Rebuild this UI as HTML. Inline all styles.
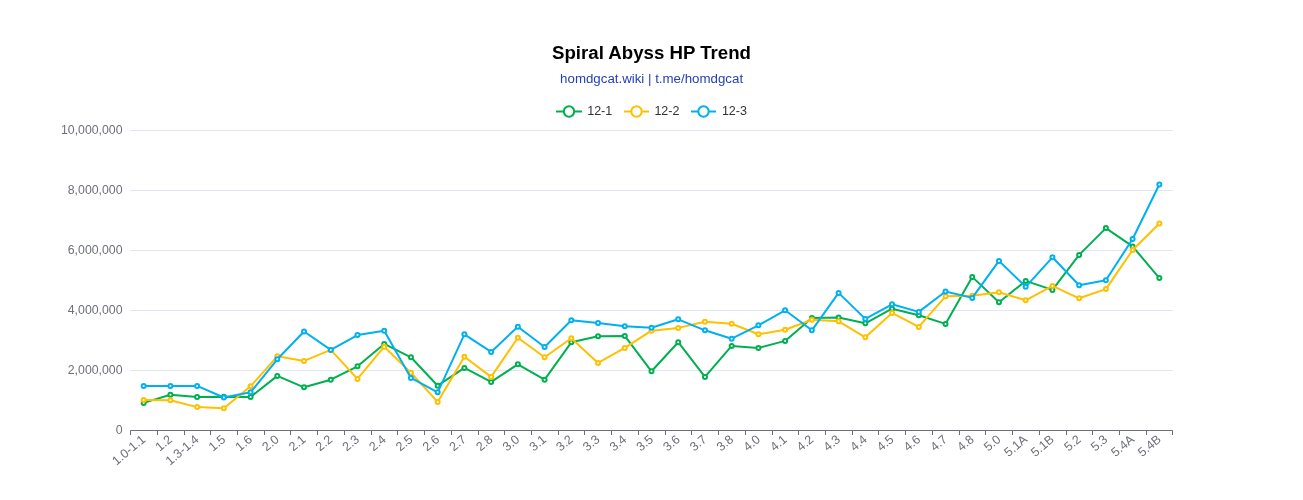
<!DOCTYPE html>
<html><head><meta charset="utf-8"><style>
html,body{margin:0;padding:0;background:#fff;}
body{width:1303px;height:500px;overflow:hidden;position:relative;font-family:"Liberation Sans",sans-serif;}
svg{position:absolute;left:0;top:0;will-change:transform;}
.yl{font-size:12.3px;fill:#6e7079;text-anchor:end;dominant-baseline:central;}
.xl{font-size:12.5px;fill:#6e7079;text-anchor:end;dominant-baseline:central;}
.title{font-size:19.2px;font-weight:bold;fill:#000;text-anchor:middle;}
.sub{font-size:13.7px;fill:#2540b8;text-anchor:middle;}
.lg{font-size:12.5px;fill:#333;dominant-baseline:central;}
</style></head><body>
<svg width="1303" height="500" viewBox="0 0 1303 500">
<rect x="0" y="0" width="1303" height="500" fill="#fff"/>
<text x="651.5" y="58.7" class="title" textLength="199" lengthAdjust="spacingAndGlyphs">Spiral Abyss HP Trend</text>
<text x="651.6" y="82.7" class="sub" textLength="183" lengthAdjust="spacingAndGlyphs">homdgcat.wiki | t.me/homdgcat</text>
<g>
<line x1="556" y1="111.5" x2="582" y2="111.5" stroke="#00b050" stroke-width="2"/><circle cx="569" cy="111.5" r="5.2" fill="#fff" stroke="#00b050" stroke-width="2"/>
<text x="587.2" y="110.6" class="lg">12-1</text>
<line x1="624" y1="111.5" x2="649" y2="111.5" stroke="#ffc000" stroke-width="2"/><circle cx="636.5" cy="111.5" r="5.2" fill="#fff" stroke="#ffc000" stroke-width="2"/>
<text x="654.4" y="110.6" class="lg">12-2</text>
<line x1="691" y1="111.5" x2="716" y2="111.5" stroke="#00b0f0" stroke-width="2"/><circle cx="703.5" cy="111.5" r="5.2" fill="#fff" stroke="#00b0f0" stroke-width="2"/>
<text x="721.9" y="110.6" class="lg">12-3</text>
</g>
<line x1="130.3" y1="130.5" x2="1172.7" y2="130.5" stroke="#e0e6f1" stroke-width="1"/>
<line x1="130.3" y1="190.5" x2="1172.7" y2="190.5" stroke="#e0e6f1" stroke-width="1"/>
<line x1="130.3" y1="250.5" x2="1172.7" y2="250.5" stroke="#e0e6f1" stroke-width="1"/>
<line x1="130.3" y1="310.5" x2="1172.7" y2="310.5" stroke="#e0e6f1" stroke-width="1"/>
<line x1="130.3" y1="370.5" x2="1172.7" y2="370.5" stroke="#e0e6f1" stroke-width="1"/>
<text x="122.5" y="430" class="yl">0</text>
<text x="122.5" y="370" class="yl">2,000,000</text>
<text x="122.5" y="310" class="yl">4,000,000</text>
<text x="122.5" y="250" class="yl">6,000,000</text>
<text x="122.5" y="190" class="yl">8,000,000</text>
<text x="122.5" y="130" class="yl">10,000,000</text>
<line x1="130.3" y1="430.5" x2="1172.7" y2="430.5" stroke="#6e7079" stroke-width="1"/>
<line x1="130.5" y1="430.5" x2="130.5" y2="435" stroke="#6e7079" stroke-width="1"/>
<line x1="157.5" y1="430.5" x2="157.5" y2="435" stroke="#6e7079" stroke-width="1"/>
<line x1="184.5" y1="430.5" x2="184.5" y2="435" stroke="#6e7079" stroke-width="1"/>
<line x1="210.5" y1="430.5" x2="210.5" y2="435" stroke="#6e7079" stroke-width="1"/>
<line x1="237.5" y1="430.5" x2="237.5" y2="435" stroke="#6e7079" stroke-width="1"/>
<line x1="264.5" y1="430.5" x2="264.5" y2="435" stroke="#6e7079" stroke-width="1"/>
<line x1="290.5" y1="430.5" x2="290.5" y2="435" stroke="#6e7079" stroke-width="1"/>
<line x1="317.5" y1="430.5" x2="317.5" y2="435" stroke="#6e7079" stroke-width="1"/>
<line x1="344.5" y1="430.5" x2="344.5" y2="435" stroke="#6e7079" stroke-width="1"/>
<line x1="371.5" y1="430.5" x2="371.5" y2="435" stroke="#6e7079" stroke-width="1"/>
<line x1="397.5" y1="430.5" x2="397.5" y2="435" stroke="#6e7079" stroke-width="1"/>
<line x1="424.5" y1="430.5" x2="424.5" y2="435" stroke="#6e7079" stroke-width="1"/>
<line x1="451.5" y1="430.5" x2="451.5" y2="435" stroke="#6e7079" stroke-width="1"/>
<line x1="478.5" y1="430.5" x2="478.5" y2="435" stroke="#6e7079" stroke-width="1"/>
<line x1="504.5" y1="430.5" x2="504.5" y2="435" stroke="#6e7079" stroke-width="1"/>
<line x1="531.5" y1="430.5" x2="531.5" y2="435" stroke="#6e7079" stroke-width="1"/>
<line x1="558.5" y1="430.5" x2="558.5" y2="435" stroke="#6e7079" stroke-width="1"/>
<line x1="584.5" y1="430.5" x2="584.5" y2="435" stroke="#6e7079" stroke-width="1"/>
<line x1="611.5" y1="430.5" x2="611.5" y2="435" stroke="#6e7079" stroke-width="1"/>
<line x1="638.5" y1="430.5" x2="638.5" y2="435" stroke="#6e7079" stroke-width="1"/>
<line x1="665.5" y1="430.5" x2="665.5" y2="435" stroke="#6e7079" stroke-width="1"/>
<line x1="691.5" y1="430.5" x2="691.5" y2="435" stroke="#6e7079" stroke-width="1"/>
<line x1="718.5" y1="430.5" x2="718.5" y2="435" stroke="#6e7079" stroke-width="1"/>
<line x1="745.5" y1="430.5" x2="745.5" y2="435" stroke="#6e7079" stroke-width="1"/>
<line x1="772.5" y1="430.5" x2="772.5" y2="435" stroke="#6e7079" stroke-width="1"/>
<line x1="798.5" y1="430.5" x2="798.5" y2="435" stroke="#6e7079" stroke-width="1"/>
<line x1="825.5" y1="430.5" x2="825.5" y2="435" stroke="#6e7079" stroke-width="1"/>
<line x1="852.5" y1="430.5" x2="852.5" y2="435" stroke="#6e7079" stroke-width="1"/>
<line x1="878.5" y1="430.5" x2="878.5" y2="435" stroke="#6e7079" stroke-width="1"/>
<line x1="905.5" y1="430.5" x2="905.5" y2="435" stroke="#6e7079" stroke-width="1"/>
<line x1="932.5" y1="430.5" x2="932.5" y2="435" stroke="#6e7079" stroke-width="1"/>
<line x1="959.5" y1="430.5" x2="959.5" y2="435" stroke="#6e7079" stroke-width="1"/>
<line x1="985.5" y1="430.5" x2="985.5" y2="435" stroke="#6e7079" stroke-width="1"/>
<line x1="1012.5" y1="430.5" x2="1012.5" y2="435" stroke="#6e7079" stroke-width="1"/>
<line x1="1039.5" y1="430.5" x2="1039.5" y2="435" stroke="#6e7079" stroke-width="1"/>
<line x1="1066.5" y1="430.5" x2="1066.5" y2="435" stroke="#6e7079" stroke-width="1"/>
<line x1="1092.5" y1="430.5" x2="1092.5" y2="435" stroke="#6e7079" stroke-width="1"/>
<line x1="1119.5" y1="430.5" x2="1119.5" y2="435" stroke="#6e7079" stroke-width="1"/>
<line x1="1146.5" y1="430.5" x2="1146.5" y2="435" stroke="#6e7079" stroke-width="1"/>
<line x1="1172.5" y1="430.5" x2="1172.5" y2="435" stroke="#6e7079" stroke-width="1"/>
<text transform="translate(143.66,437.6) rotate(-40)" class="xl">1.0-1.1</text>
<text transform="translate(170.39,437.6) rotate(-40)" class="xl">1.2</text>
<text transform="translate(197.12,437.6) rotate(-40)" class="xl">1.3-1.4</text>
<text transform="translate(223.85,437.6) rotate(-40)" class="xl">1.5</text>
<text transform="translate(250.58,437.6) rotate(-40)" class="xl">1.6</text>
<text transform="translate(277.31,437.6) rotate(-40)" class="xl">2.0</text>
<text transform="translate(304.03,437.6) rotate(-40)" class="xl">2.1</text>
<text transform="translate(330.76,437.6) rotate(-40)" class="xl">2.2</text>
<text transform="translate(357.49,437.6) rotate(-40)" class="xl">2.3</text>
<text transform="translate(384.22,437.6) rotate(-40)" class="xl">2.4</text>
<text transform="translate(410.95,437.6) rotate(-40)" class="xl">2.5</text>
<text transform="translate(437.67,437.6) rotate(-40)" class="xl">2.6</text>
<text transform="translate(464.40,437.6) rotate(-40)" class="xl">2.7</text>
<text transform="translate(491.13,437.6) rotate(-40)" class="xl">2.8</text>
<text transform="translate(517.86,437.6) rotate(-40)" class="xl">3.0</text>
<text transform="translate(544.59,437.6) rotate(-40)" class="xl">3.1</text>
<text transform="translate(571.32,437.6) rotate(-40)" class="xl">3.2</text>
<text transform="translate(598.04,437.6) rotate(-40)" class="xl">3.3</text>
<text transform="translate(624.77,437.6) rotate(-40)" class="xl">3.4</text>
<text transform="translate(651.50,437.6) rotate(-40)" class="xl">3.5</text>
<text transform="translate(678.23,437.6) rotate(-40)" class="xl">3.6</text>
<text transform="translate(704.96,437.6) rotate(-40)" class="xl">3.7</text>
<text transform="translate(731.68,437.6) rotate(-40)" class="xl">3.8</text>
<text transform="translate(758.41,437.6) rotate(-40)" class="xl">4.0</text>
<text transform="translate(785.14,437.6) rotate(-40)" class="xl">4.1</text>
<text transform="translate(811.87,437.6) rotate(-40)" class="xl">4.2</text>
<text transform="translate(838.60,437.6) rotate(-40)" class="xl">4.3</text>
<text transform="translate(865.33,437.6) rotate(-40)" class="xl">4.4</text>
<text transform="translate(892.05,437.6) rotate(-40)" class="xl">4.5</text>
<text transform="translate(918.78,437.6) rotate(-40)" class="xl">4.6</text>
<text transform="translate(945.51,437.6) rotate(-40)" class="xl">4.7</text>
<text transform="translate(972.24,437.6) rotate(-40)" class="xl">4.8</text>
<text transform="translate(998.97,437.6) rotate(-40)" class="xl">5.0</text>
<text transform="translate(1025.69,437.6) rotate(-40)" class="xl">5.1A</text>
<text transform="translate(1052.42,437.6) rotate(-40)" class="xl">5.1B</text>
<text transform="translate(1079.15,437.6) rotate(-40)" class="xl">5.2</text>
<text transform="translate(1105.88,437.6) rotate(-40)" class="xl">5.3</text>
<text transform="translate(1132.61,437.6) rotate(-40)" class="xl">5.4A</text>
<text transform="translate(1159.34,437.6) rotate(-40)" class="xl">5.4B</text>
<polyline points="143.66,402.90 170.39,394.70 197.12,396.90 223.85,396.70 250.58,396.90 277.31,375.90 304.03,387.30 330.76,379.70 357.49,366.30 384.22,343.90 410.95,357.30 437.67,385.70 464.40,367.90 491.13,381.90 517.86,364.30 544.59,379.70 571.32,342.30 598.04,336.30 624.77,335.90 651.50,371.30 678.23,342.20 704.96,376.90 731.68,345.90 758.41,347.90 785.14,340.90 811.87,318.10 838.60,317.50 865.33,323.30 892.05,308.70 918.78,315.30 945.51,323.90 972.24,276.90 998.97,302.30 1025.69,280.90 1052.42,289.90 1079.15,254.90 1105.88,228.10 1132.61,246.40 1159.34,278.10" fill="none" stroke="#00b050" stroke-width="2" stroke-linejoin="bevel"/>
<circle cx="143.66" cy="402.90" r="2" fill="#fff" stroke="#00b050" stroke-width="2"/>
<circle cx="170.39" cy="394.70" r="2" fill="#fff" stroke="#00b050" stroke-width="2"/>
<circle cx="197.12" cy="396.90" r="2" fill="#fff" stroke="#00b050" stroke-width="2"/>
<circle cx="223.85" cy="396.70" r="2" fill="#fff" stroke="#00b050" stroke-width="2"/>
<circle cx="250.58" cy="396.90" r="2" fill="#fff" stroke="#00b050" stroke-width="2"/>
<circle cx="277.31" cy="375.90" r="2" fill="#fff" stroke="#00b050" stroke-width="2"/>
<circle cx="304.03" cy="387.30" r="2" fill="#fff" stroke="#00b050" stroke-width="2"/>
<circle cx="330.76" cy="379.70" r="2" fill="#fff" stroke="#00b050" stroke-width="2"/>
<circle cx="357.49" cy="366.30" r="2" fill="#fff" stroke="#00b050" stroke-width="2"/>
<circle cx="384.22" cy="343.90" r="2" fill="#fff" stroke="#00b050" stroke-width="2"/>
<circle cx="410.95" cy="357.30" r="2" fill="#fff" stroke="#00b050" stroke-width="2"/>
<circle cx="437.67" cy="385.70" r="2" fill="#fff" stroke="#00b050" stroke-width="2"/>
<circle cx="464.40" cy="367.90" r="2" fill="#fff" stroke="#00b050" stroke-width="2"/>
<circle cx="491.13" cy="381.90" r="2" fill="#fff" stroke="#00b050" stroke-width="2"/>
<circle cx="517.86" cy="364.30" r="2" fill="#fff" stroke="#00b050" stroke-width="2"/>
<circle cx="544.59" cy="379.70" r="2" fill="#fff" stroke="#00b050" stroke-width="2"/>
<circle cx="571.32" cy="342.30" r="2" fill="#fff" stroke="#00b050" stroke-width="2"/>
<circle cx="598.04" cy="336.30" r="2" fill="#fff" stroke="#00b050" stroke-width="2"/>
<circle cx="624.77" cy="335.90" r="2" fill="#fff" stroke="#00b050" stroke-width="2"/>
<circle cx="651.50" cy="371.30" r="2" fill="#fff" stroke="#00b050" stroke-width="2"/>
<circle cx="678.23" cy="342.20" r="2" fill="#fff" stroke="#00b050" stroke-width="2"/>
<circle cx="704.96" cy="376.90" r="2" fill="#fff" stroke="#00b050" stroke-width="2"/>
<circle cx="731.68" cy="345.90" r="2" fill="#fff" stroke="#00b050" stroke-width="2"/>
<circle cx="758.41" cy="347.90" r="2" fill="#fff" stroke="#00b050" stroke-width="2"/>
<circle cx="785.14" cy="340.90" r="2" fill="#fff" stroke="#00b050" stroke-width="2"/>
<circle cx="811.87" cy="318.10" r="2" fill="#fff" stroke="#00b050" stroke-width="2"/>
<circle cx="838.60" cy="317.50" r="2" fill="#fff" stroke="#00b050" stroke-width="2"/>
<circle cx="865.33" cy="323.30" r="2" fill="#fff" stroke="#00b050" stroke-width="2"/>
<circle cx="892.05" cy="308.70" r="2" fill="#fff" stroke="#00b050" stroke-width="2"/>
<circle cx="918.78" cy="315.30" r="2" fill="#fff" stroke="#00b050" stroke-width="2"/>
<circle cx="945.51" cy="323.90" r="2" fill="#fff" stroke="#00b050" stroke-width="2"/>
<circle cx="972.24" cy="276.90" r="2" fill="#fff" stroke="#00b050" stroke-width="2"/>
<circle cx="998.97" cy="302.30" r="2" fill="#fff" stroke="#00b050" stroke-width="2"/>
<circle cx="1025.69" cy="280.90" r="2" fill="#fff" stroke="#00b050" stroke-width="2"/>
<circle cx="1052.42" cy="289.90" r="2" fill="#fff" stroke="#00b050" stroke-width="2"/>
<circle cx="1079.15" cy="254.90" r="2" fill="#fff" stroke="#00b050" stroke-width="2"/>
<circle cx="1105.88" cy="228.10" r="2" fill="#fff" stroke="#00b050" stroke-width="2"/>
<circle cx="1132.61" cy="246.40" r="2" fill="#fff" stroke="#00b050" stroke-width="2"/>
<circle cx="1159.34" cy="278.10" r="2" fill="#fff" stroke="#00b050" stroke-width="2"/>
<polyline points="143.66,400.00 170.39,400.30 197.12,407.10 223.85,408.30 250.58,386.30 277.31,356.30 304.03,360.90 330.76,349.90 357.49,378.90 384.22,346.70 410.95,372.70 437.67,401.90 464.40,356.70 491.13,376.90 517.86,337.70 544.59,357.30 571.32,338.30 598.04,362.90 624.77,347.90 651.50,330.70 678.23,327.90 704.96,321.70 731.68,323.70 758.41,334.30 785.14,329.70 811.87,319.70 838.60,321.30 865.33,337.30 892.05,312.90 918.78,326.90 945.51,296.30 972.24,295.70 998.97,292.30 1025.69,300.30 1052.42,285.90 1079.15,298.30 1105.88,289.10 1132.61,250.00 1159.34,223.50" fill="none" stroke="#ffc000" stroke-width="2" stroke-linejoin="bevel"/>
<circle cx="143.66" cy="400.00" r="2" fill="#fff" stroke="#ffc000" stroke-width="2"/>
<circle cx="170.39" cy="400.30" r="2" fill="#fff" stroke="#ffc000" stroke-width="2"/>
<circle cx="197.12" cy="407.10" r="2" fill="#fff" stroke="#ffc000" stroke-width="2"/>
<circle cx="223.85" cy="408.30" r="2" fill="#fff" stroke="#ffc000" stroke-width="2"/>
<circle cx="250.58" cy="386.30" r="2" fill="#fff" stroke="#ffc000" stroke-width="2"/>
<circle cx="277.31" cy="356.30" r="2" fill="#fff" stroke="#ffc000" stroke-width="2"/>
<circle cx="304.03" cy="360.90" r="2" fill="#fff" stroke="#ffc000" stroke-width="2"/>
<circle cx="330.76" cy="349.90" r="2" fill="#fff" stroke="#ffc000" stroke-width="2"/>
<circle cx="357.49" cy="378.90" r="2" fill="#fff" stroke="#ffc000" stroke-width="2"/>
<circle cx="384.22" cy="346.70" r="2" fill="#fff" stroke="#ffc000" stroke-width="2"/>
<circle cx="410.95" cy="372.70" r="2" fill="#fff" stroke="#ffc000" stroke-width="2"/>
<circle cx="437.67" cy="401.90" r="2" fill="#fff" stroke="#ffc000" stroke-width="2"/>
<circle cx="464.40" cy="356.70" r="2" fill="#fff" stroke="#ffc000" stroke-width="2"/>
<circle cx="491.13" cy="376.90" r="2" fill="#fff" stroke="#ffc000" stroke-width="2"/>
<circle cx="517.86" cy="337.70" r="2" fill="#fff" stroke="#ffc000" stroke-width="2"/>
<circle cx="544.59" cy="357.30" r="2" fill="#fff" stroke="#ffc000" stroke-width="2"/>
<circle cx="571.32" cy="338.30" r="2" fill="#fff" stroke="#ffc000" stroke-width="2"/>
<circle cx="598.04" cy="362.90" r="2" fill="#fff" stroke="#ffc000" stroke-width="2"/>
<circle cx="624.77" cy="347.90" r="2" fill="#fff" stroke="#ffc000" stroke-width="2"/>
<circle cx="651.50" cy="330.70" r="2" fill="#fff" stroke="#ffc000" stroke-width="2"/>
<circle cx="678.23" cy="327.90" r="2" fill="#fff" stroke="#ffc000" stroke-width="2"/>
<circle cx="704.96" cy="321.70" r="2" fill="#fff" stroke="#ffc000" stroke-width="2"/>
<circle cx="731.68" cy="323.70" r="2" fill="#fff" stroke="#ffc000" stroke-width="2"/>
<circle cx="758.41" cy="334.30" r="2" fill="#fff" stroke="#ffc000" stroke-width="2"/>
<circle cx="785.14" cy="329.70" r="2" fill="#fff" stroke="#ffc000" stroke-width="2"/>
<circle cx="811.87" cy="319.70" r="2" fill="#fff" stroke="#ffc000" stroke-width="2"/>
<circle cx="838.60" cy="321.30" r="2" fill="#fff" stroke="#ffc000" stroke-width="2"/>
<circle cx="865.33" cy="337.30" r="2" fill="#fff" stroke="#ffc000" stroke-width="2"/>
<circle cx="892.05" cy="312.90" r="2" fill="#fff" stroke="#ffc000" stroke-width="2"/>
<circle cx="918.78" cy="326.90" r="2" fill="#fff" stroke="#ffc000" stroke-width="2"/>
<circle cx="945.51" cy="296.30" r="2" fill="#fff" stroke="#ffc000" stroke-width="2"/>
<circle cx="972.24" cy="295.70" r="2" fill="#fff" stroke="#ffc000" stroke-width="2"/>
<circle cx="998.97" cy="292.30" r="2" fill="#fff" stroke="#ffc000" stroke-width="2"/>
<circle cx="1025.69" cy="300.30" r="2" fill="#fff" stroke="#ffc000" stroke-width="2"/>
<circle cx="1052.42" cy="285.90" r="2" fill="#fff" stroke="#ffc000" stroke-width="2"/>
<circle cx="1079.15" cy="298.30" r="2" fill="#fff" stroke="#ffc000" stroke-width="2"/>
<circle cx="1105.88" cy="289.10" r="2" fill="#fff" stroke="#ffc000" stroke-width="2"/>
<circle cx="1132.61" cy="250.00" r="2" fill="#fff" stroke="#ffc000" stroke-width="2"/>
<circle cx="1159.34" cy="223.50" r="2" fill="#fff" stroke="#ffc000" stroke-width="2"/>
<polyline points="143.66,386.00 170.39,385.90 197.12,385.90 223.85,397.50 250.58,392.30 277.31,359.30 304.03,331.50 330.76,349.90 357.49,335.10 384.22,330.70 410.95,377.90 437.67,392.30 464.40,334.30 491.13,351.90 517.86,326.70 544.59,347.00 571.32,320.30 598.04,322.90 624.77,326.30 651.50,327.70 678.23,319.30 704.96,330.30 731.68,338.70 758.41,325.30 785.14,310.30 811.87,330.30 838.60,292.90 865.33,318.90 892.05,304.30 918.78,311.90 945.51,291.50 972.24,297.90 998.97,260.90 1025.69,286.80 1052.42,257.30 1079.15,285.20 1105.88,280.20 1132.61,239.00 1159.34,184.50" fill="none" stroke="#00b0f0" stroke-width="2" stroke-linejoin="bevel"/>
<circle cx="143.66" cy="386.00" r="2" fill="#fff" stroke="#00b0f0" stroke-width="2"/>
<circle cx="170.39" cy="385.90" r="2" fill="#fff" stroke="#00b0f0" stroke-width="2"/>
<circle cx="197.12" cy="385.90" r="2" fill="#fff" stroke="#00b0f0" stroke-width="2"/>
<circle cx="223.85" cy="397.50" r="2" fill="#fff" stroke="#00b0f0" stroke-width="2"/>
<circle cx="250.58" cy="392.30" r="2" fill="#fff" stroke="#00b0f0" stroke-width="2"/>
<circle cx="277.31" cy="359.30" r="2" fill="#fff" stroke="#00b0f0" stroke-width="2"/>
<circle cx="304.03" cy="331.50" r="2" fill="#fff" stroke="#00b0f0" stroke-width="2"/>
<circle cx="330.76" cy="349.90" r="2" fill="#fff" stroke="#00b0f0" stroke-width="2"/>
<circle cx="357.49" cy="335.10" r="2" fill="#fff" stroke="#00b0f0" stroke-width="2"/>
<circle cx="384.22" cy="330.70" r="2" fill="#fff" stroke="#00b0f0" stroke-width="2"/>
<circle cx="410.95" cy="377.90" r="2" fill="#fff" stroke="#00b0f0" stroke-width="2"/>
<circle cx="437.67" cy="392.30" r="2" fill="#fff" stroke="#00b0f0" stroke-width="2"/>
<circle cx="464.40" cy="334.30" r="2" fill="#fff" stroke="#00b0f0" stroke-width="2"/>
<circle cx="491.13" cy="351.90" r="2" fill="#fff" stroke="#00b0f0" stroke-width="2"/>
<circle cx="517.86" cy="326.70" r="2" fill="#fff" stroke="#00b0f0" stroke-width="2"/>
<circle cx="544.59" cy="347.00" r="2" fill="#fff" stroke="#00b0f0" stroke-width="2"/>
<circle cx="571.32" cy="320.30" r="2" fill="#fff" stroke="#00b0f0" stroke-width="2"/>
<circle cx="598.04" cy="322.90" r="2" fill="#fff" stroke="#00b0f0" stroke-width="2"/>
<circle cx="624.77" cy="326.30" r="2" fill="#fff" stroke="#00b0f0" stroke-width="2"/>
<circle cx="651.50" cy="327.70" r="2" fill="#fff" stroke="#00b0f0" stroke-width="2"/>
<circle cx="678.23" cy="319.30" r="2" fill="#fff" stroke="#00b0f0" stroke-width="2"/>
<circle cx="704.96" cy="330.30" r="2" fill="#fff" stroke="#00b0f0" stroke-width="2"/>
<circle cx="731.68" cy="338.70" r="2" fill="#fff" stroke="#00b0f0" stroke-width="2"/>
<circle cx="758.41" cy="325.30" r="2" fill="#fff" stroke="#00b0f0" stroke-width="2"/>
<circle cx="785.14" cy="310.30" r="2" fill="#fff" stroke="#00b0f0" stroke-width="2"/>
<circle cx="811.87" cy="330.30" r="2" fill="#fff" stroke="#00b0f0" stroke-width="2"/>
<circle cx="838.60" cy="292.90" r="2" fill="#fff" stroke="#00b0f0" stroke-width="2"/>
<circle cx="865.33" cy="318.90" r="2" fill="#fff" stroke="#00b0f0" stroke-width="2"/>
<circle cx="892.05" cy="304.30" r="2" fill="#fff" stroke="#00b0f0" stroke-width="2"/>
<circle cx="918.78" cy="311.90" r="2" fill="#fff" stroke="#00b0f0" stroke-width="2"/>
<circle cx="945.51" cy="291.50" r="2" fill="#fff" stroke="#00b0f0" stroke-width="2"/>
<circle cx="972.24" cy="297.90" r="2" fill="#fff" stroke="#00b0f0" stroke-width="2"/>
<circle cx="998.97" cy="260.90" r="2" fill="#fff" stroke="#00b0f0" stroke-width="2"/>
<circle cx="1025.69" cy="286.80" r="2" fill="#fff" stroke="#00b0f0" stroke-width="2"/>
<circle cx="1052.42" cy="257.30" r="2" fill="#fff" stroke="#00b0f0" stroke-width="2"/>
<circle cx="1079.15" cy="285.20" r="2" fill="#fff" stroke="#00b0f0" stroke-width="2"/>
<circle cx="1105.88" cy="280.20" r="2" fill="#fff" stroke="#00b0f0" stroke-width="2"/>
<circle cx="1132.61" cy="239.00" r="2" fill="#fff" stroke="#00b0f0" stroke-width="2"/>
<circle cx="1159.34" cy="184.50" r="2" fill="#fff" stroke="#00b0f0" stroke-width="2"/>
</svg>
</body></html>
